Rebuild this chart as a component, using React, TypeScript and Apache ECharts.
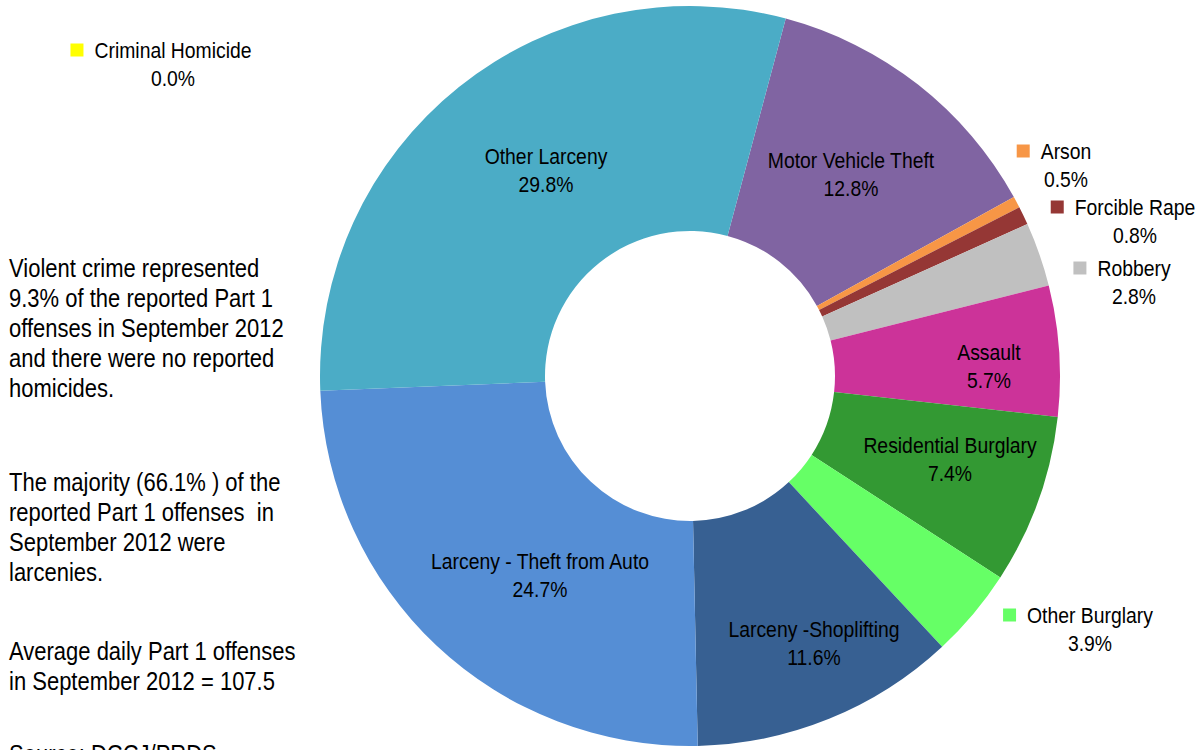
import React, { useEffect, useRef } from "react";
import * as echarts from "echarts";

const categories = [
  "Criminal Homicide",
  "Motor Vehicle Theft",
  "Arson",
  "Forcible Rape",
  "Robbery",
  "Assault",
  "Residential Burglary",
  "Other Burglary",
  "Larceny -Shoplifting",
  "Larceny - Theft from Auto",
  "Other Larceny",
];
const percentages = [0.0, 12.8, 0.5, 0.8, 2.8, 5.7, 7.4, 3.9, 11.6, 24.7, 29.8];
const colors = [
  "#FFFF00",
  "#8064A2",
  "#F79646",
  "#953735",
  "#C0C0C0",
  "#CC3399",
  "#339933",
  "#66FF66",
  "#376092",
  "#558ED5",
  "#4BACC6",
];
const outsideLabels = ["Criminal Homicide", "Arson", "Forcible Rape", "Robbery", "Other Burglary"];

// label placement (layout only): centre of the name text block
const labelPos: Record<string, [number, number]> = {
  "Criminal Homicide": [173, 64],
  "Motor Vehicle Theft": [851, 174],
  Arson: [1066, 165],
  "Forcible Rape": [1135, 221],
  Robbery: [1134, 282],
  Assault: [989, 366],
  "Residential Burglary": [950, 459],
  "Other Burglary": [1090, 629],
  "Larceny -Shoplifting": [814, 643],
  "Larceny - Theft from Auto": [540, 575],
  "Other Larceny": [546, 170],
};

const notes = [
  "Violent crime represented\n9.3% of the reported Part 1\noffenses in September 2012\nand there were no reported\nhomicides.",
  "The majority (66.1% ) of the\nreported Part 1 offenses  in\nSeptember 2012 were\nlarcenies.",
  "Average daily Part 1 offenses\nin September 2012 = 107.5",
  "Source: DCCJ/PRDS",
];
const noteTops = [253, 467, 636, 739];

const FONT = '"Liberation Sans", Arial, sans-serif';
const NOTE_SCALE = 0.846;
const LABEL_SCALE = 0.88;
const SQ = 13;
const GAP = 11;

export default function App() {
  const ref = useRef<HTMLDivElement>(null);
  useEffect(() => {
    if (!ref.current) return;
    const chart = echarts.init(ref.current, null, { renderer: "svg" });

    const data = categories.map((name, i) => ({
      name,
      value: percentages[i],
      itemStyle: { color: colors[i] },
    }));

    const labelGraphics = categories.map((name, i) => {
      const pos = labelPos[name];
      const pct = `${percentages[i].toFixed(1)}%`;
      const outside = outsideLabels.includes(name);
      const s = LABEL_SCALE;
      if (outside) {
        return {
          type: "text",
          x: pos[0] - (SQ + GAP) / 2,
          y: pos[1],
          scaleX: s,
          z: 100,
          silent: true,
          style: {
            x: 0,
            y: 0,
            text: `{sq|}{gap|}{n|${name}}\n{pad|}{n|${pct}}`,
            align: "center",
            verticalAlign: "middle",
            rich: {
              sq: { width: SQ / s, height: SQ, backgroundColor: colors[i] },
              gap: { width: GAP / s },
              pad: { width: (SQ + GAP) / s },
              n: { fontFamily: FONT, fontSize: 22, fill: "#000", lineHeight: 28 },
            },
          },
        };
      }
      return {
        type: "text",
        x: pos[0],
        y: pos[1],
        scaleX: s,
        z: 100,
        silent: true,
        style: {
          x: 0,
          y: 0,
          text: `${name}\n${pct}`,
          align: "center",
          verticalAlign: "middle",
          font: `22px ${FONT}`,
          lineHeight: 28,
          fill: "#000",
        },
      };
    });

    const noteGraphics = notes.map((t, i) => ({
      type: "text",
      x: 9,
      y: noteTops[i],
      scaleX: NOTE_SCALE,
      z: 100,
      silent: true,
      style: {
        x: 0,
        y: 0,
        text: t,
        font: `26px ${FONT}`,
        lineHeight: 30,
        verticalAlign: "top",
        fill: "#000",
      },
    }));

    chart.setOption({
      animation: false,
      backgroundColor: "#fff",
      series: [
        {
          type: "pie",
          z: 1,
          center: [690, 376],
          radius: [145, 370],
          startAngle: 75,
          clockwise: true,
          avoidLabelOverlap: false,
          itemStyle: { borderWidth: 0 },
          label: { show: false },
          labelLine: { show: false },
          emphasis: { disabled: true },
          data,
        },
      ],
      graphic: {
        elements: [...noteGraphics, ...labelGraphics].map((e) => ({ ...e, z: 100, zlevel: 0 })),
      },
    });
    return () => chart.dispose();
  }, []);
  return (
    <div
      ref={ref}
      style={{ position: "fixed", left: 0, top: 0, width: 1201, height: 750 }}
    />
  );
}
